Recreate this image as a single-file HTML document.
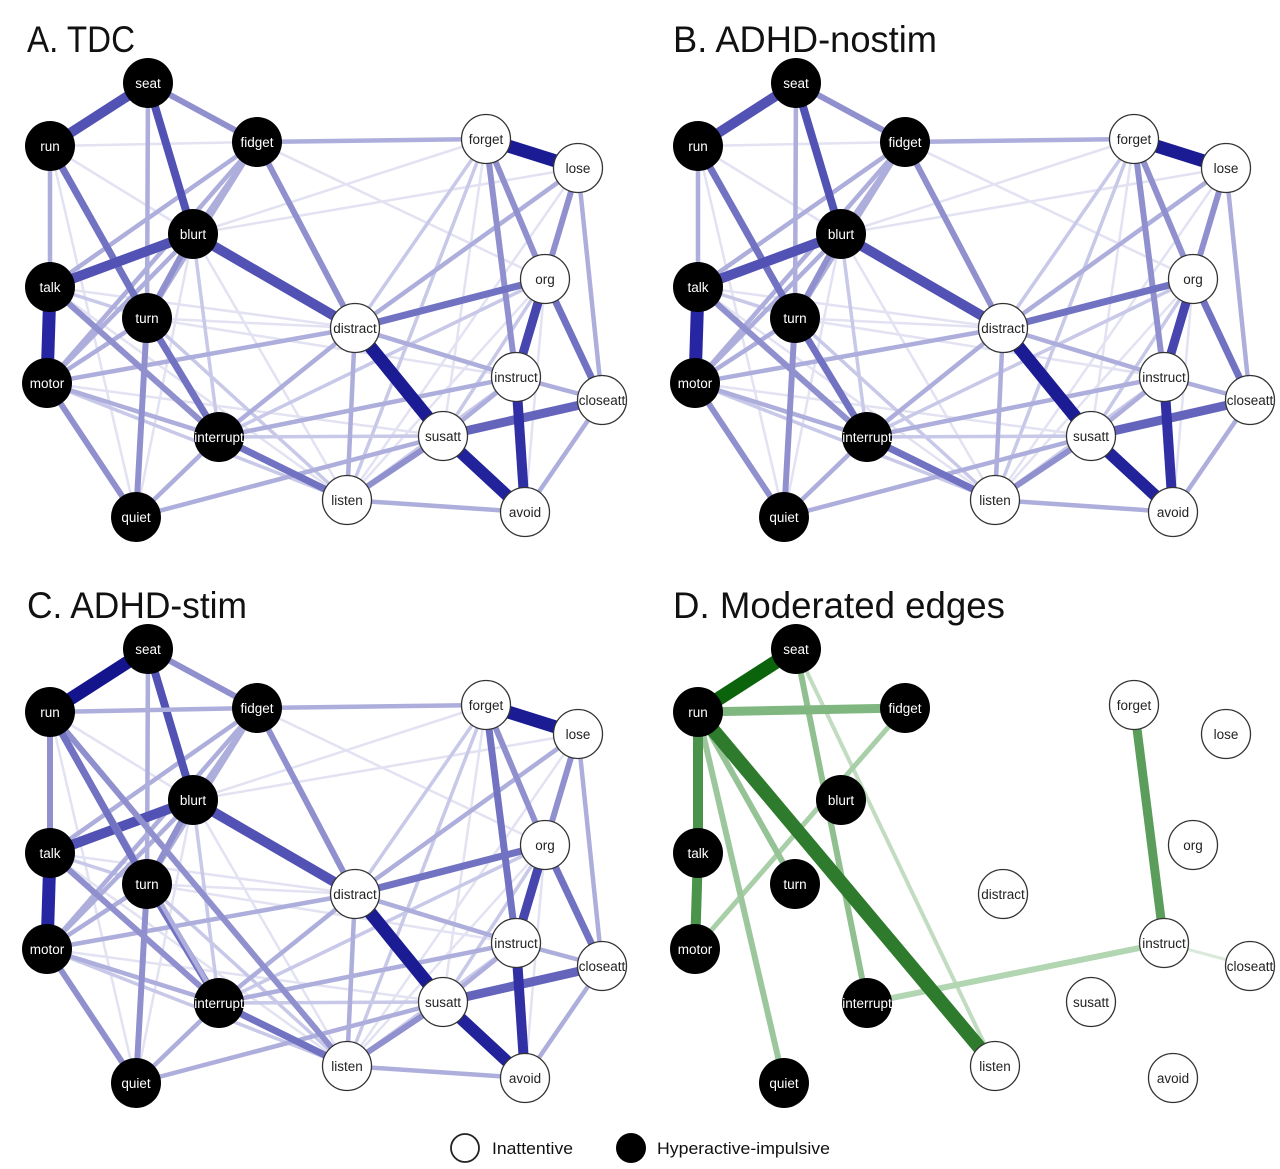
<!DOCTYPE html>
<html>
<head>
<meta charset="utf-8">
<style>
html,body{margin:0;padding:0;background:#fff;}
svg{display:block;}
line{stroke-linecap:butt;}
.t1{stroke:#1b1b93;stroke-width:13}
.t2{stroke:#3030a4;stroke-width:10}
.t3{stroke:#5252b4;stroke-width:10}
.t4{stroke:#7272c2;stroke-width:7}
.t5{stroke:#9090ce;stroke-width:6}
.t6{stroke:#aeaedc;stroke-width:4.5}
.t7{stroke:#c8c8e8;stroke-width:3.5}
.t8{stroke:#e2e2f2;stroke-width:2.5}
.h{fill:#000;}
.i{fill:#fff;stroke:#333;stroke-width:1.3;}
.lh{fill:#fff;font-family:"Liberation Sans",Arial,sans-serif;font-size:13.5px;text-anchor:middle;}
.li{fill:#222;font-family:"Liberation Sans",Arial,sans-serif;font-size:13.5px;text-anchor:middle;}
.title{fill:#111;font-family:"Liberation Sans",Arial,sans-serif;font-size:37px;}
.leg{fill:#111;font-family:"Liberation Sans",Arial,sans-serif;font-size:17px;}
</style>
</head>
<body>
<svg width="1280" height="1169" viewBox="0 0 1280 1169" xmlns="http://www.w3.org/2000/svg">
<defs>
<g id="eA">
<!-- t8 -->
<line class="t8" x1="50" y1="146" x2="257" y2="142"/>
<line class="t8" x1="50" y1="146" x2="219" y2="437"/>
<line class="t8" x1="50" y1="146" x2="136" y2="517"/>
<line class="t8" x1="50" y1="146" x2="193" y2="234"/>
<line class="t8" x1="193" y1="234" x2="347" y2="500"/>
<line class="t8" x1="193" y1="234" x2="136" y2="517"/>
<line class="t8" x1="147" y1="318" x2="355" y2="328"/>
<line class="t8" x1="47" y1="383" x2="443" y2="436"/>
<line class="t8" x1="486" y1="139" x2="443" y2="436"/>
<line class="t8" x1="486" y1="139" x2="193" y2="234"/>
<line class="t8" x1="545" y1="279" x2="347" y2="500"/>
<line class="t8" x1="545" y1="279" x2="525" y2="512"/>
<line class="t8" x1="578" y1="168" x2="347" y2="500"/>
<line class="t8" x1="257" y1="142" x2="545" y2="279"/>
<line class="t8" x1="50" y1="287" x2="355" y2="328"/>
<line class="t8" x1="50" y1="287" x2="347" y2="500"/>
<line class="t8" x1="147" y1="318" x2="516" y2="377"/>
<line class="t8" x1="193" y1="234" x2="578" y2="168"/>
<!-- t7 -->
<line class="t7" x1="486" y1="139" x2="355" y2="328"/>
<line class="t7" x1="486" y1="139" x2="347" y2="500"/>
<line class="t7" x1="193" y1="234" x2="219" y2="437"/>
<line class="t7" x1="50" y1="287" x2="147" y2="318"/>
<line class="t7" x1="47" y1="383" x2="347" y2="500"/>
<line class="t7" x1="219" y1="437" x2="443" y2="436"/>
<line class="t7" x1="545" y1="279" x2="443" y2="436"/>
<line class="t7" x1="516" y1="377" x2="347" y2="500"/>
<line class="t7" x1="147" y1="318" x2="347" y2="500"/>
<line class="t7" x1="219" y1="437" x2="545" y2="279"/>
<!-- t6 -->
<line class="t6" x1="148" y1="83" x2="147" y2="318"/>
<line class="t6" x1="50" y1="146" x2="50" y2="287"/>
<line class="t6" x1="257" y1="142" x2="50" y2="287"/>
<line class="t6" x1="257" y1="142" x2="193" y2="234"/>
<line class="t6" x1="257" y1="142" x2="147" y2="318"/>
<line class="t6" x1="257" y1="142" x2="47" y2="383"/>
<line class="t6" x1="257" y1="142" x2="486" y2="139"/>
<line class="t6" x1="193" y1="234" x2="47" y2="383"/>
<line class="t6" x1="147" y1="318" x2="47" y2="383"/>
<line class="t6" x1="47" y1="383" x2="219" y2="437"/>
<line class="t6" x1="47" y1="383" x2="355" y2="328"/>
<line class="t6" x1="219" y1="437" x2="136" y2="517"/>
<line class="t6" x1="219" y1="437" x2="516" y2="377"/>
<line class="t6" x1="219" y1="437" x2="355" y2="328"/>
<line class="t6" x1="136" y1="517" x2="443" y2="436"/>
<line class="t6" x1="578" y1="168" x2="602" y2="400"/>
<line class="t6" x1="578" y1="168" x2="355" y2="328"/>
<line class="t6" x1="355" y1="328" x2="347" y2="500"/>
<line class="t6" x1="355" y1="328" x2="516" y2="377"/>
<line class="t6" x1="516" y1="377" x2="602" y2="400"/>
<line class="t6" x1="516" y1="377" x2="443" y2="436"/>
<line class="t6" x1="602" y1="400" x2="525" y2="512"/>
<line class="t6" x1="347" y1="500" x2="525" y2="512"/>
<!-- t5 -->
<line class="t5" x1="148" y1="83" x2="257" y2="142"/>
<line class="t5" x1="257" y1="142" x2="355" y2="328"/>
<line class="t5" x1="193" y1="234" x2="147" y2="318"/>
<line class="t5" x1="50" y1="287" x2="219" y2="437"/>
<line class="t5" x1="147" y1="318" x2="136" y2="517"/>
<line class="t5" x1="47" y1="383" x2="136" y2="517"/>
<line class="t5" x1="486" y1="139" x2="545" y2="279"/>
<line class="t5" x1="486" y1="139" x2="516" y2="377"/>
<line class="t5" x1="578" y1="168" x2="545" y2="279"/>
<line class="t5" x1="443" y1="436" x2="347" y2="500"/>
<!-- t4 -->
<line class="t4" x1="50" y1="146" x2="147" y2="318"/>
<line class="t4" x1="147" y1="318" x2="219" y2="437"/>
<line class="t4" x1="219" y1="437" x2="347" y2="500"/>
<line class="t4" x1="355" y1="328" x2="545" y2="279"/>
<line class="t4" x1="545" y1="279" x2="602" y2="400"/>
<!-- t3 -->
<line class="t3" x1="148" y1="83" x2="50" y2="146"/>
<line class="t3" x1="148" y1="83" x2="193" y2="234" style="stroke-width:8"/>
<line class="t3" x1="193" y1="234" x2="50" y2="287"/>
<line class="t3" x1="193" y1="234" x2="355" y2="328"/>
<line class="t3" x1="602" y1="400" x2="443" y2="436" style="stroke:#6464bc;stroke-width:9"/>
<!-- t2 -->
<line class="t2" x1="545" y1="279" x2="516" y2="377" style="stroke:#4646ae;stroke-width:9"/>
<line class="t2" x1="516" y1="377" x2="525" y2="512"/>
<!-- t1 -->
<line class="t1" x1="50" y1="287" x2="47" y2="383" style="stroke:#2626a2"/>
<line class="t1" x1="486" y1="139" x2="578" y2="168"/>
<line class="t1" x1="355" y1="328" x2="443" y2="436"/>
<line class="t1" x1="443" y1="436" x2="525" y2="512" style="stroke:#22229a;stroke-width:12"/>
</g>
</defs>

<!-- Titles -->
<text class="title" x="27" y="52" textLength="108" lengthAdjust="spacingAndGlyphs">A. TDC</text>
<text class="title" x="673" y="52" textLength="264" lengthAdjust="spacingAndGlyphs">B. ADHD-nostim</text>
<text class="title" x="27" y="618" textLength="220" lengthAdjust="spacingAndGlyphs">C. ADHD-stim</text>
<text class="title" x="673" y="618" textLength="332" lengthAdjust="spacingAndGlyphs">D. Moderated edges</text>

<!-- Panel A -->
<g transform="translate(0,0)">
<use href="#eA"/>
<circle class="h" cx="148" cy="83" r="25"/><text class="lh" x="148" y="88">seat</text>
<circle class="h" cx="50" cy="146" r="25"/><text class="lh" x="50" y="151">run</text>
<circle class="h" cx="257" cy="142" r="25"/><text class="lh" x="257" y="147">fidget</text>
<circle class="h" cx="193" cy="234" r="25"/><text class="lh" x="193" y="239">blurt</text>
<circle class="h" cx="50" cy="287" r="25"/><text class="lh" x="50" y="292">talk</text>
<circle class="h" cx="147" cy="318" r="25"/><text class="lh" x="147" y="323">turn</text>
<circle class="h" cx="47" cy="383" r="25"/><text class="lh" x="47" y="388">motor</text>
<circle class="h" cx="219" cy="437" r="25"/><text class="lh" x="219" y="442">interrupt</text>
<circle class="h" cx="136" cy="517" r="25"/><text class="lh" x="136" y="522">quiet</text>
<circle class="i" cx="486" cy="139" r="24.5"/><text class="li" x="486" y="144">forget</text>
<circle class="i" cx="578" cy="168" r="24.5"/><text class="li" x="578" y="173">lose</text>
<circle class="i" cx="545" cy="279" r="24.5"/><text class="li" x="545" y="284">org</text>
<circle class="i" cx="355" cy="328" r="24.5"/><text class="li" x="355" y="333">distract</text>
<circle class="i" cx="516" cy="377" r="24.5"/><text class="li" x="516" y="382">instruct</text>
<circle class="i" cx="602" cy="400" r="24.5"/><text class="li" x="602" y="405">closeatt</text>
<circle class="i" cx="443" cy="436" r="24.5"/><text class="li" x="443" y="441">susatt</text>
<circle class="i" cx="347" cy="500" r="24.5"/><text class="li" x="347" y="505">listen</text>
<circle class="i" cx="525" cy="512" r="24.5"/><text class="li" x="525" y="517">avoid</text>
</g>

<!-- Panel B -->
<g transform="translate(648,0)">
<use href="#eA"/>
<circle class="h" cx="148" cy="83" r="25"/><text class="lh" x="148" y="88">seat</text>
<circle class="h" cx="50" cy="146" r="25"/><text class="lh" x="50" y="151">run</text>
<circle class="h" cx="257" cy="142" r="25"/><text class="lh" x="257" y="147">fidget</text>
<circle class="h" cx="193" cy="234" r="25"/><text class="lh" x="193" y="239">blurt</text>
<circle class="h" cx="50" cy="287" r="25"/><text class="lh" x="50" y="292">talk</text>
<circle class="h" cx="147" cy="318" r="25"/><text class="lh" x="147" y="323">turn</text>
<circle class="h" cx="47" cy="383" r="25"/><text class="lh" x="47" y="388">motor</text>
<circle class="h" cx="219" cy="437" r="25"/><text class="lh" x="219" y="442">interrupt</text>
<circle class="h" cx="136" cy="517" r="25"/><text class="lh" x="136" y="522">quiet</text>
<circle class="i" cx="486" cy="139" r="24.5"/><text class="li" x="486" y="144">forget</text>
<circle class="i" cx="578" cy="168" r="24.5"/><text class="li" x="578" y="173">lose</text>
<circle class="i" cx="545" cy="279" r="24.5"/><text class="li" x="545" y="284">org</text>
<circle class="i" cx="355" cy="328" r="24.5"/><text class="li" x="355" y="333">distract</text>
<circle class="i" cx="516" cy="377" r="24.5"/><text class="li" x="516" y="382">instruct</text>
<circle class="i" cx="602" cy="400" r="24.5"/><text class="li" x="602" y="405">closeatt</text>
<circle class="i" cx="443" cy="436" r="24.5"/><text class="li" x="443" y="441">susatt</text>
<circle class="i" cx="347" cy="500" r="24.5"/><text class="li" x="347" y="505">listen</text>
<circle class="i" cx="525" cy="512" r="24.5"/><text class="li" x="525" y="517">avoid</text>
</g>

<!-- Panel C -->
<g transform="translate(0,566)">
<use href="#eA"/>
<line class="t6" x1="50" y1="146" x2="257" y2="142"/>
<line class="t6" x1="50" y1="146" x2="219" y2="437"/>
<line class="t5" x1="50" y1="146" x2="347" y2="500"/>
<line class="t5" x1="50" y1="146" x2="50" y2="287"/>
<line class="t4" x1="486" y1="139" x2="516" y2="377"/>
<line class="t4" x1="50" y1="146" x2="147" y2="318"/>
<line class="t1" x1="148" y1="83" x2="50" y2="146" style="stroke:#14148c"/>
<circle class="h" cx="148" cy="83" r="25"/><text class="lh" x="148" y="88">seat</text>
<circle class="h" cx="50" cy="146" r="25"/><text class="lh" x="50" y="151">run</text>
<circle class="h" cx="257" cy="142" r="25"/><text class="lh" x="257" y="147">fidget</text>
<circle class="h" cx="193" cy="234" r="25"/><text class="lh" x="193" y="239">blurt</text>
<circle class="h" cx="50" cy="287" r="25"/><text class="lh" x="50" y="292">talk</text>
<circle class="h" cx="147" cy="318" r="25"/><text class="lh" x="147" y="323">turn</text>
<circle class="h" cx="47" cy="383" r="25"/><text class="lh" x="47" y="388">motor</text>
<circle class="h" cx="219" cy="437" r="25"/><text class="lh" x="219" y="442">interrupt</text>
<circle class="h" cx="136" cy="517" r="25"/><text class="lh" x="136" y="522">quiet</text>
<circle class="i" cx="486" cy="139" r="24.5"/><text class="li" x="486" y="144">forget</text>
<circle class="i" cx="578" cy="168" r="24.5"/><text class="li" x="578" y="173">lose</text>
<circle class="i" cx="545" cy="279" r="24.5"/><text class="li" x="545" y="284">org</text>
<circle class="i" cx="355" cy="328" r="24.5"/><text class="li" x="355" y="333">distract</text>
<circle class="i" cx="516" cy="377" r="24.5"/><text class="li" x="516" y="382">instruct</text>
<circle class="i" cx="602" cy="400" r="24.5"/><text class="li" x="602" y="405">closeatt</text>
<circle class="i" cx="443" cy="436" r="24.5"/><text class="li" x="443" y="441">susatt</text>
<circle class="i" cx="347" cy="500" r="24.5"/><text class="li" x="347" y="505">listen</text>
<circle class="i" cx="525" cy="512" r="24.5"/><text class="li" x="525" y="517">avoid</text>
</g>

<!-- Panel D -->
<g transform="translate(648,566)">
<line x1="516" y1="377" x2="602" y2="400" style="stroke:#dbe9db;stroke-width:3"/>
<line x1="148" y1="83" x2="347" y2="500" style="stroke:#c2dcc2;stroke-width:4"/>
<line x1="219" y1="437" x2="516" y2="377" style="stroke:#b2d5b2;stroke-width:6"/>
<line x1="257" y1="142" x2="47" y2="383" style="stroke:#a8cfa8;stroke-width:5"/>
<line x1="50" y1="146" x2="136" y2="517" style="stroke:#9cc79c;stroke-width:6"/>
<line x1="50" y1="146" x2="147" y2="318" style="stroke:#96c396;stroke-width:6"/>
<line x1="148" y1="83" x2="219" y2="437" style="stroke:#90bf90;stroke-width:6"/>
<line x1="50" y1="146" x2="257" y2="142" style="stroke:#80b680;stroke-width:9"/>
<line x1="486" y1="139" x2="516" y2="377" style="stroke:#5b9e5b;stroke-width:9"/>
<line x1="50" y1="146" x2="50" y2="287" style="stroke:#4a934a;stroke-width:10"/>
<line x1="50" y1="287" x2="47" y2="383" style="stroke:#4a934a;stroke-width:10"/>
<line x1="50" y1="146" x2="347" y2="500" style="stroke:#2e7b2e;stroke-width:14"/>
<line x1="148" y1="83" x2="50" y2="146" style="stroke:#0b640b;stroke-width:14"/>
<circle class="h" cx="148" cy="83" r="25"/><text class="lh" x="148" y="88">seat</text>
<circle class="h" cx="50" cy="146" r="25"/><text class="lh" x="50" y="151">run</text>
<circle class="h" cx="257" cy="142" r="25"/><text class="lh" x="257" y="147">fidget</text>
<circle class="h" cx="193" cy="234" r="25"/><text class="lh" x="193" y="239">blurt</text>
<circle class="h" cx="50" cy="287" r="25"/><text class="lh" x="50" y="292">talk</text>
<circle class="h" cx="147" cy="318" r="25"/><text class="lh" x="147" y="323">turn</text>
<circle class="h" cx="47" cy="383" r="25"/><text class="lh" x="47" y="388">motor</text>
<circle class="h" cx="219" cy="437" r="25"/><text class="lh" x="219" y="442">interrupt</text>
<circle class="h" cx="136" cy="517" r="25"/><text class="lh" x="136" y="522">quiet</text>
<circle class="i" cx="486" cy="139" r="24.5"/><text class="li" x="486" y="144">forget</text>
<circle class="i" cx="578" cy="168" r="24.5"/><text class="li" x="578" y="173">lose</text>
<circle class="i" cx="545" cy="279" r="24.5"/><text class="li" x="545" y="284">org</text>
<circle class="i" cx="355" cy="328" r="24.5"/><text class="li" x="355" y="333">distract</text>
<circle class="i" cx="516" cy="377" r="24.5"/><text class="li" x="516" y="382">instruct</text>
<circle class="i" cx="602" cy="400" r="24.5"/><text class="li" x="602" y="405">closeatt</text>
<circle class="i" cx="443" cy="436" r="24.5"/><text class="li" x="443" y="441">susatt</text>
<circle class="i" cx="347" cy="500" r="24.5"/><text class="li" x="347" y="505">listen</text>
<circle class="i" cx="525" cy="512" r="24.5"/><text class="li" x="525" y="517">avoid</text>
</g>

<!-- Legend -->
<circle cx="465" cy="1148" r="14" fill="#fff" stroke="#222" stroke-width="1.8"/>
<text class="leg" x="492" y="1154" textLength="81" lengthAdjust="spacingAndGlyphs">Inattentive</text>
<circle cx="631" cy="1148" r="15" fill="#000"/>
<text class="leg" x="657" y="1154" textLength="173" lengthAdjust="spacingAndGlyphs">Hyperactive-impulsive</text>
</svg>
</body>
</html>
